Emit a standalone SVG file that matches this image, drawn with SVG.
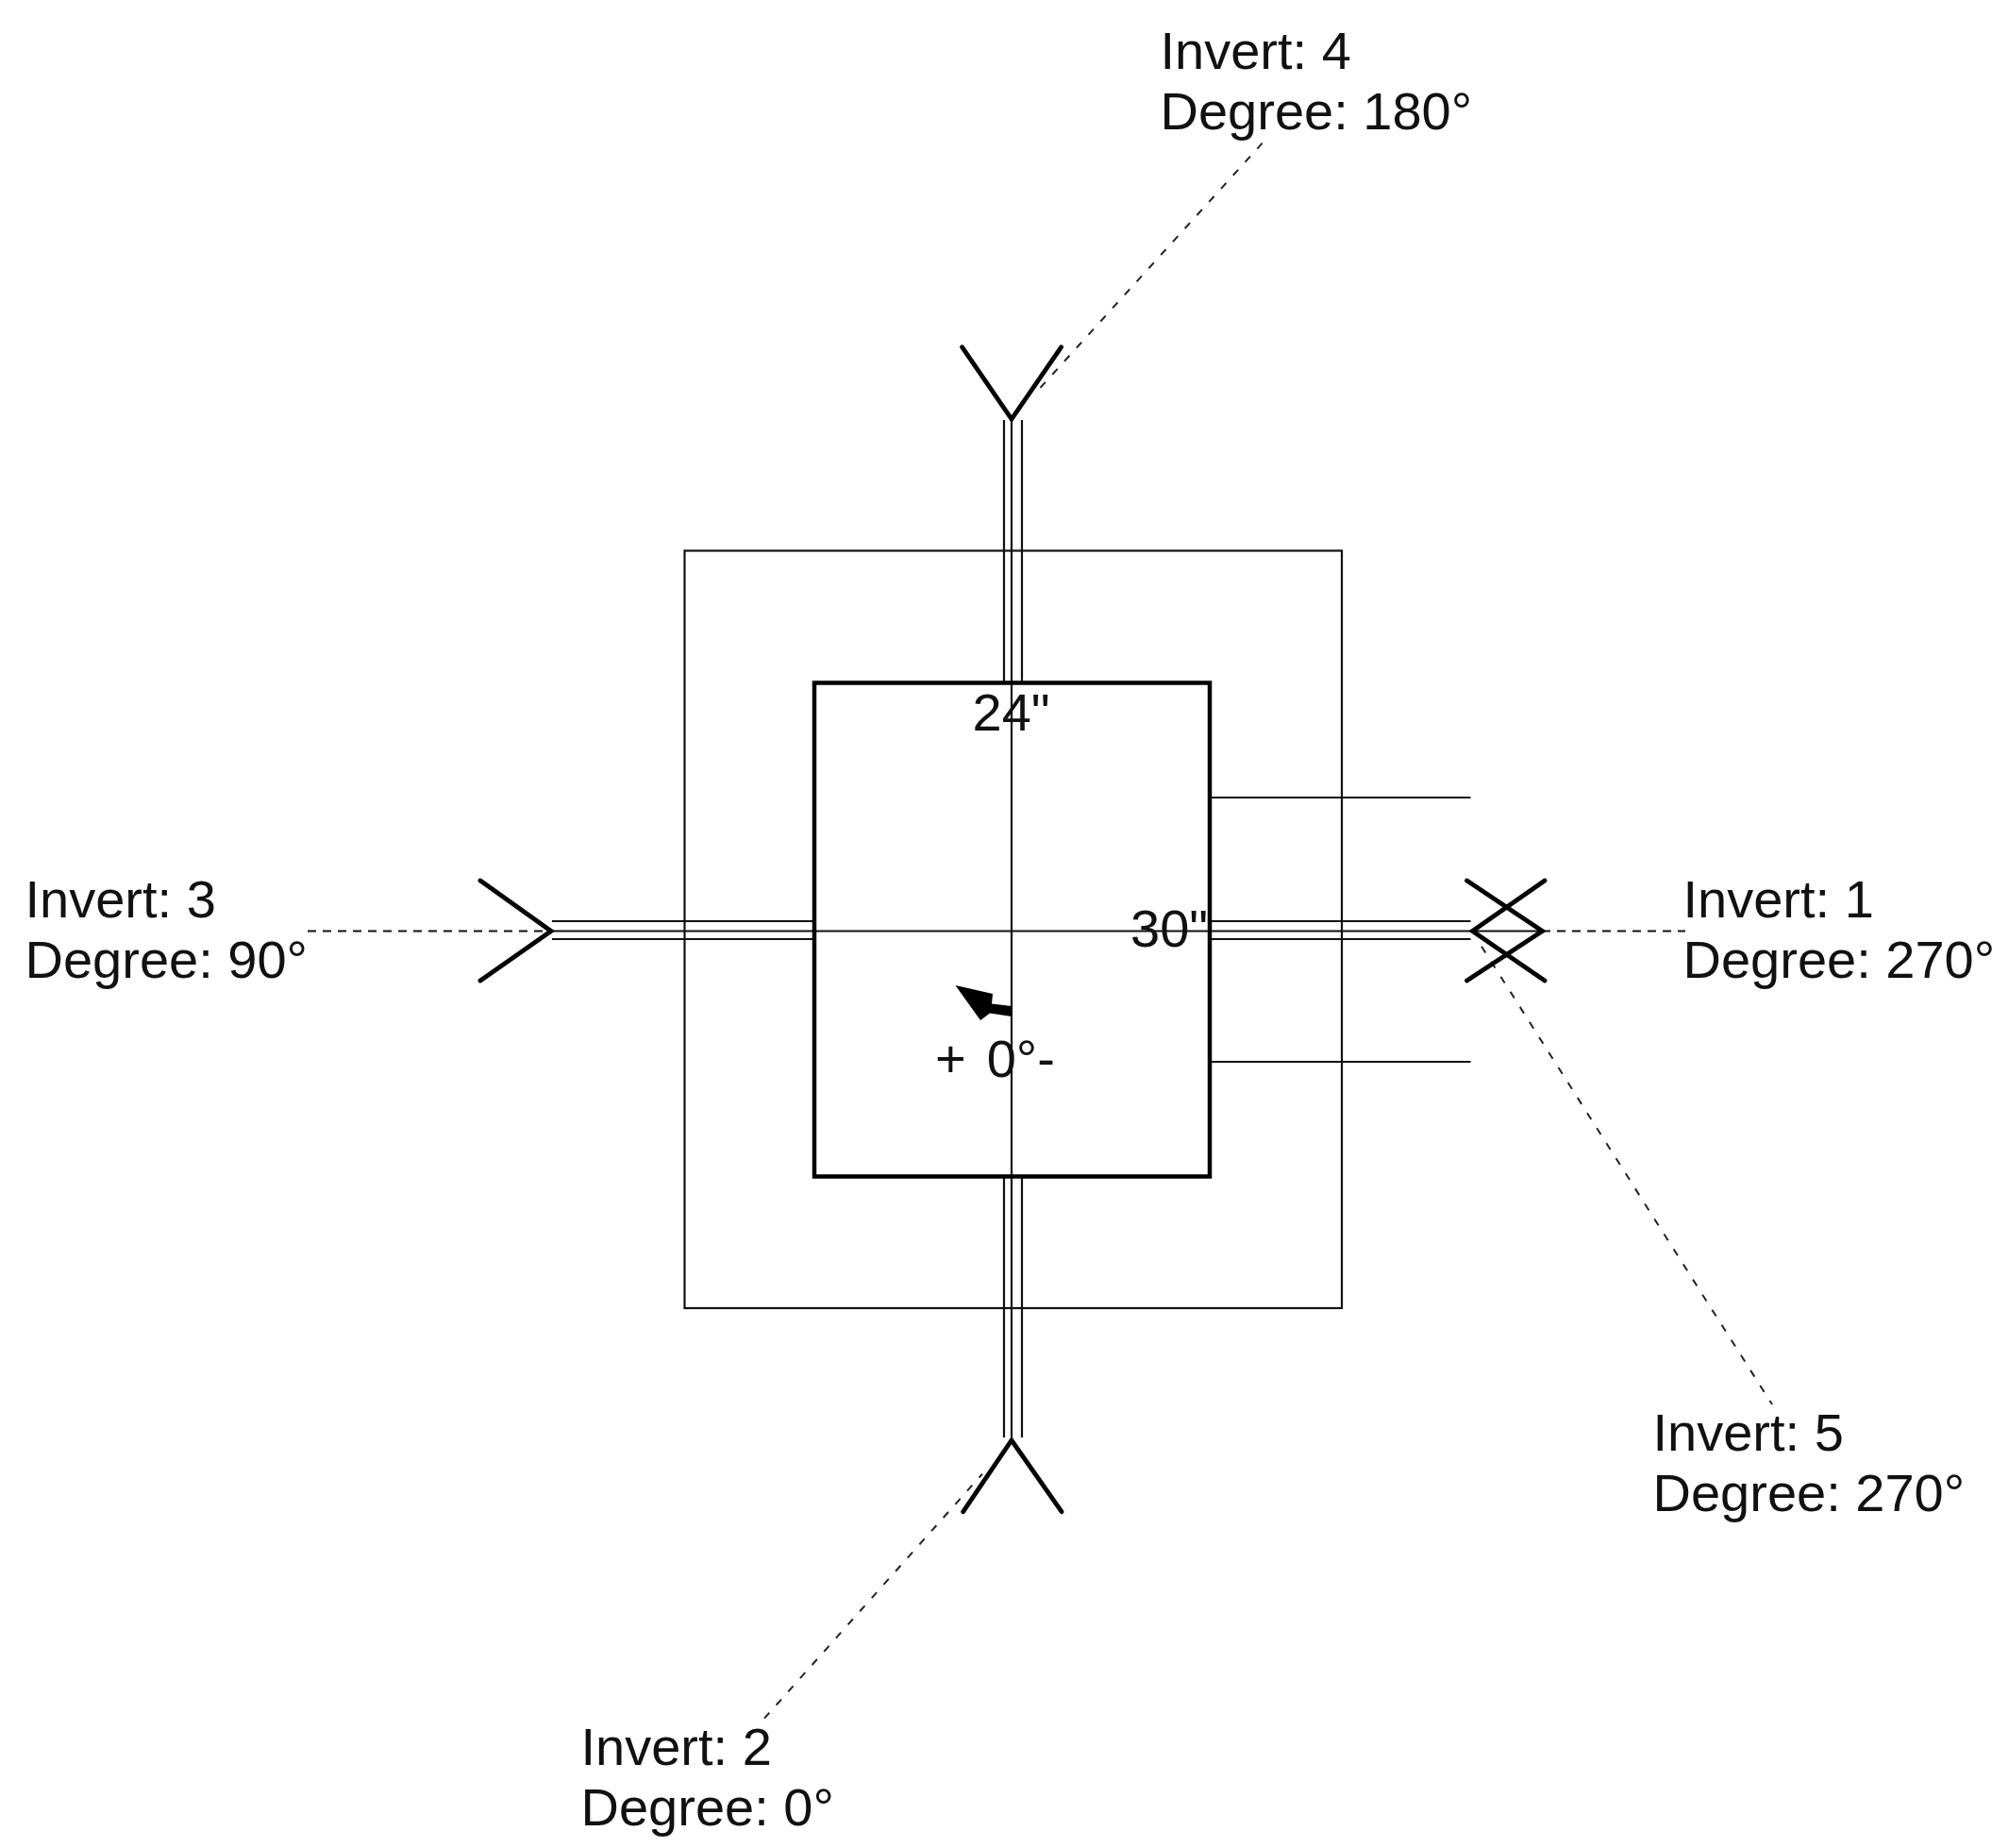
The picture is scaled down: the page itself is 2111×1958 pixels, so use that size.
<svg xmlns="http://www.w3.org/2000/svg" width="2111" height="1958" viewBox="0 0 2111 1958">
<style>
text{font-family:"Liberation Sans",Arial,sans-serif;font-size:56px;fill:#111}
.thin{fill:none;stroke:#111;stroke-width:2.2}
.thick{fill:none;stroke:#000;stroke-width:4.5}
.chev{fill:none;stroke:#000;stroke-width:4.8;stroke-linecap:round;stroke-linejoin:miter}
.dash{fill:none;stroke:#111;stroke-width:2.2;stroke-dasharray:9 7}
.dashd{fill:none;stroke:#222;stroke-width:2;stroke-dasharray:8 11}
</style>
<rect width="2111" height="1958" fill="#fff"/>
<g id="outer-box"><rect class="thin" x="725.5" y="583.5" width="696.5" height="802.5"/></g>
<g id="connectors">
<path class="thin" d="M1064 445V723M1072 445V1523M1083 445V723M1064 1246V1523M1083 1246V1523"/>
<path class="thin" d="M585 976H863M585 986.5H1634M585 995H863M1282 976H1558.5M1282 995H1558.5"/>
<path class="thin" d="M1282 845H1558.5M1282 1125H1558.5"/>
<path class="dash" d="M326 986.5H584"/>
<path class="dash" d="M1634 986.5H1786"/>
<path class="dashd" d="M1337.7 151.7L1100.5 413"/>
<path class="dashd" d="M810 1820.7L1041 1561.7"/>
<path class="dashd" d="M1570 1002.7L1878 1488"/>
</g>
<g id="inner-box"><rect class="thick" x="863" y="723.5" width="419" height="523"/></g>
<g id="pipe-4"><path class="chev" d="M1019.5 367.7L1072 444L1124.7 367.7"/></g>
<g id="pipe-2"><path class="chev" d="M1020.7 1601.7L1072 1526L1125 1601.7"/></g>
<g id="pipe-3"><path class="chev" d="M509 933L584 986.5L509 1039"/></g>
<g id="pipe-1"><path class="chev" d="M1554.5 933L1634.5 986.5L1554.5 1039"/></g>
<g id="pipe-5"><path class="chev" d="M1637 933L1560.4 986.5L1637 1039"/></g>
<g id="flow-arrow"><polygon fill="#000" points="1012.5,1044 1052,1053 1051,1063.5 1072,1066 1072,1077 1049,1073.5 1039,1081"/></g>
<g id="label-invert-4"><text x="1229.5" y="72.7">Invert: 4</text><text x="1229.5" y="136.7">Degree: 180°</text></g>
<g id="label-invert-3"><text x="26.5" y="971.7">Invert: 3</text><text x="26.5" y="1035.7">Degree: 90°</text></g>
<g id="label-invert-1"><text x="1783.5" y="971.7">Invert: 1</text><text x="1783.5" y="1035.7">Degree: 270°</text></g>
<g id="label-invert-5"><text x="1751.5" y="1537">Invert: 5</text><text x="1751.5" y="1601">Degree: 270°</text></g>
<g id="label-invert-2"><text x="615.5" y="1870">Invert: 2</text><text x="615.5" y="1934">Degree: 0°</text></g>
<g id="label-dim-top"><text x="1030.5" y="774">24"</text></g>
<g id="label-dim-right"><text x="1198" y="1003">30"</text></g>
<g id="label-rotation"><text x="991" y="1141">+<tspan dx="22">0°-</tspan></text></g>
</svg>
